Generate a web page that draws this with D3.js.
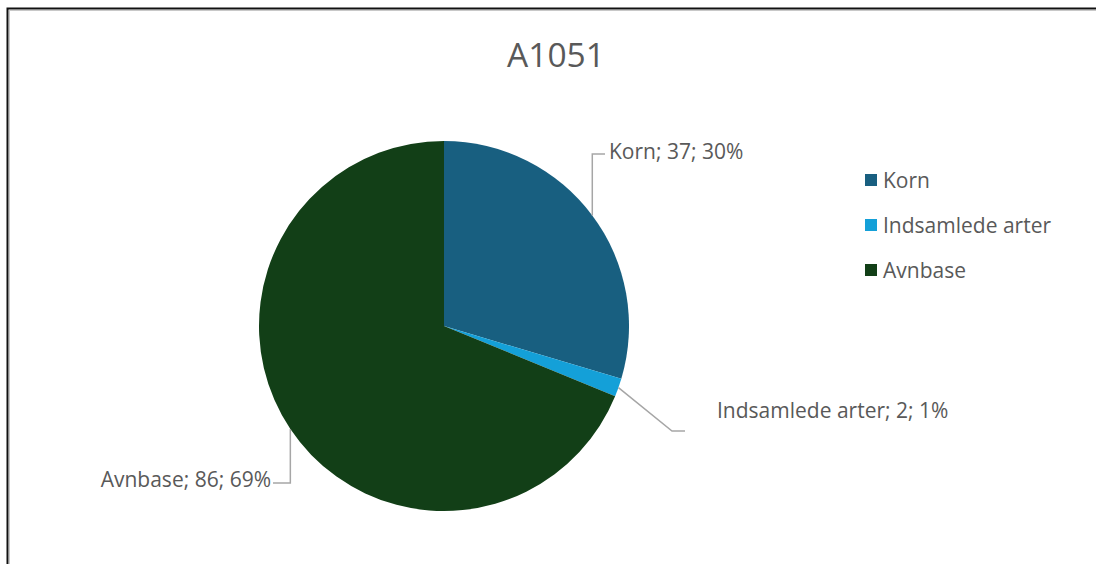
<!DOCTYPE html>
<html>
<head>
<meta charset="utf-8">
<script src="https://cdn.jsdelivr.net/npm/d3@7"></script>
<style>
  html, body { margin: 0; padding: 0; background: #fff; overflow: hidden; }
  svg { display: block; overflow: hidden; }
  text { font-family: "Open Sans", "Noto Sans", sans-serif; fill: #595959; }
</style>
</head>
<body>
<svg id="chart" width="1096" height="564"></svg>
<script>
// Data
const title = "A1051";
const categories = ["Korn", "Indsamlede arter", "Avnbase"];
const values = [37, 2, 86];
const percentLabels = ["30%", "1%", "69%"];
const colors = ["#185f80", "#14a0d8", "#123f17"];

const W = 1096, H = 564;
const svg = d3.select("#chart");

// Chart frame (black border with soft inner shadow)
svg.append("rect").attr("x", 9.5).attr("y", 10.5).attr("width", W + 20).attr("height", H + 20)
  .attr("fill", "none").attr("stroke", "#c8c8c8").attr("stroke-width", 1);
svg.append("rect").attr("x", 7.5).attr("y", 8.5).attr("width", W + 20).attr("height", H + 20)
  .attr("fill", "none").attr("stroke", "#111").attr("stroke-width", 2);

// Title
svg.append("text").attr("x", 556).attr("y", 67).attr("text-anchor", "middle")
  .style("font-size", "33.5px").text(title);

// Pie
const cx = 444, cy = 326, R = 185;
const pie = d3.pie().sort(null).value(d => d)(values);
const arc = d3.arc().innerRadius(0).outerRadius(R);
const g = svg.append("g").attr("transform", `translate(${cx},${cy})`);
g.selectAll("path").data(pie).join("path")
  .attr("d", arc).attr("fill", (d, i) => colors[i]);

// Point on the rim at the slice's mid angle
function rim(d) {
  const a = (d.startAngle + d.endAngle) / 2;
  return [cx + R * Math.sin(a), cy - R * Math.cos(a)];
}

// Leader line elbows and label anchors
const labelLayout = [
  { elbow: p => [[p[0], 154], [605, 154]], tx: 609, ty: 159, anchor: "start" },
  { elbow: p => [[672, 431], [685, 431]], tx: 717, ty: 418, anchor: "start" },
  { elbow: p => [[p[0], 483], [273, 483]], tx: 271, ty: 487, anchor: "end" }
];

const line = d3.line();
pie.forEach((d, i) => {
  const p = rim(d);
  const L = labelLayout[i];
  svg.append("path").attr("d", line([p, ...L.elbow(p)]))
    .attr("fill", "none").attr("stroke", "#a6a6a6").attr("stroke-width", 1.5);
  svg.append("text").attr("x", L.tx).attr("y", L.ty).attr("text-anchor", L.anchor)
    .style("font-size", "21px")
    .text(`${categories[i]}; ${values[i]}; ${percentLabels[i]}`);
});

// Legend
const legend = svg.append("g").attr("transform", "translate(865,180)");
categories.forEach((c, i) => {
  const y = i * 45;
  legend.append("rect").attr("x", 0).attr("y", y - 6).attr("width", 12).attr("height", 12)
    .attr("fill", colors[i]);
  legend.append("text").attr("x", 18).attr("y", y + 7.5).style("font-size", "21px").text(c);
});
</script>
</body>
</html>
